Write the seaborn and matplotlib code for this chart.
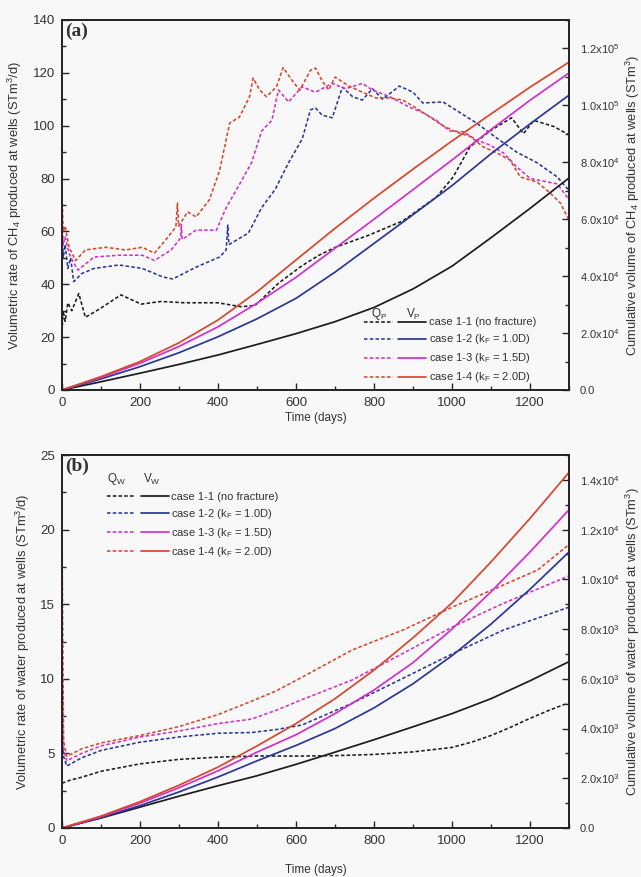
import numpy as np
import pandas as pd
import matplotlib
matplotlib.use("Agg")
import matplotlib.pyplot as plt
import seaborn as sns
from matplotlib.ticker import MultipleLocator, FuncFormatter
from matplotlib.legend_handler import HandlerTuple

# ---------------- data ----------------
case_labels = ["case 1-1 (no fracture)", "case 1-2 (k$_F$ = 1.0D)",
               "case 1-3 (k$_F$ = 1.5D)", "case 1-4 (k$_F$ = 2.0D)"]
case_colors = ["#1c1c1c", "#2b3795", "#d22fcb", "#d8462f"]

# panel (a) CH4 rate Qp (STm3/d)
qp_days_11 = [0, 3, 8, 15, 25, 43, 60, 100, 151, 203, 254, 315, 400, 460, 495, 556, 615, 659, 701, 787,
              874, 960, 1003, 1046, 1097, 1153, 1183, 1210, 1261, 1300]
qp_11 = [22, 30, 26, 33, 30, 36.5, 27.5, 31, 36, 32.5, 33.5, 33, 33, 31.5, 32, 40.5, 47, 51, 54, 58.6,
         64, 73, 80.6, 92, 98, 103, 97, 102, 99.7, 96.5]
qp_days_12 = [0, 3, 8, 15, 22, 30, 50, 82, 146, 206, 258, 284, 344, 404, 421, 425, 428, 478, 512, 547,
              581, 616, 637, 650, 667, 693, 719, 745, 770, 796, 822, 865, 900, 925, 977, 1020, 1063,
              1115, 1166, 1218, 1270, 1300]
qp_12 = [60, 50, 55, 46, 50, 41, 44, 46, 47.3, 46, 42.8, 42, 46.5, 50.3, 53, 62.4, 55, 59.4, 69, 76,
         86, 95, 106, 106.7, 104, 103, 114.6, 111, 109.7, 114, 110, 115, 112.7, 108.6, 109, 105, 101,
         95.3, 90, 86, 80.6, 75.5]
qp_days_13 = [0, 3, 8, 18, 30, 41, 82, 146, 206, 237, 280, 304, 306, 308, 344, 396, 421, 452, 486, 512,
              538, 555, 581, 615, 650, 693, 727, 770, 796, 840, 891, 925, 960, 994, 1029, 1063, 1097,
              1132, 1166, 1201, 1235, 1270, 1300]
qp_13 = [65, 55, 58, 51.8, 48, 45.4, 50.3, 51, 51, 49, 53, 57.5, 62.7, 57, 60.5, 60.5, 69, 77, 86, 98,
         102, 113.5, 109, 114.7, 112.7, 116, 114, 116, 113.5, 111, 107, 105, 102, 98, 97.7, 94.6, 92.7,
         89.7, 84.4, 80, 79, 78, 72]
qp_days_14 = [0, 3, 8, 18, 35, 60, 112, 163, 206, 237, 266, 292, 296, 299, 322, 344, 378, 404, 430, 455,
              481, 490, 507, 524, 550, 567, 593, 610, 637, 650, 667, 684, 700, 736, 770, 805, 840, 874,
              908, 943, 977, 1011, 1046, 1080, 1115, 1149, 1175, 1218, 1252, 1278, 1300]
qp_14 = [75, 60, 62, 54, 49, 53, 54, 53, 54, 51.8, 56.8, 61.7, 70.7, 62, 67.4, 65.5, 72, 83, 101, 103.3,
         111, 118, 113.5, 111, 114.7, 122, 116.5, 113.5, 121, 121.8, 117, 113.5, 118.4, 115, 112.7,
         110.5, 110.5, 109.7, 106.7, 103.3, 100, 97.6, 96, 92, 89.7, 87, 80.6, 78.7, 74.5, 70.7, 64.3]

# panel (a) cumulative CH4 Vp (STm3)
vp_days = [0, 100, 200, 300, 400, 500, 600, 700, 800, 900, 1000, 1100, 1200, 1300]
vp_11 = [0, 2.9e3, 5.9e3, 9.0e3, 12.3e3, 16.0e3, 19.8e3, 24.0e3, 29.0e3, 35.5e3, 43.5e3, 53.5e3, 63.8e3, 74.5e3]
vp_12 = [0, 3.9e3, 8.2e3, 13.1e3, 18.7e3, 25.0e3, 32.2e3, 41.4e3, 51.5e3, 61.6e3, 71.8e3, 83.0e3, 93.5e3, 103.6e3]
vp_13 = [0, 4.4e3, 9.4e3, 15.3e3, 22.2e3, 30.5e3, 39.6e3, 49.8e3, 60.0e3, 70.4e3, 80.8e3, 91.5e3, 101.8e3, 111.4e3]
vp_14 = [0, 4.7e3, 10.0e3, 16.6e3, 24.6e3, 34.5e3, 45.7e3, 56.8e3, 67.4e3, 77.6e3, 87.5e3, 97.0e3, 106.4e3, 115.2e3]

# panel (b) water rate Qw (STm3/d)
qw_days_11 = [0, 20, 50, 100, 200, 300, 400, 500, 600, 700, 800, 900, 1000, 1050, 1100, 1150, 1200, 1250, 1300]
qw_11 = [3.0, 3.2, 3.4, 3.8, 4.3, 4.6, 4.75, 4.83, 4.82, 4.85, 4.93, 5.1, 5.4, 5.75, 6.2, 6.75, 7.35, 7.9, 8.4]
qw_days_12 = [0, 4, 12, 50, 100, 200, 300, 400, 486, 550, 615, 744, 874, 1003, 1132, 1300]
qw_12 = [6.0, 4.8, 4.15, 4.7, 5.2, 5.75, 6.1, 6.35, 6.4, 6.6, 6.9, 8.36, 10.03, 11.7, 13.27, 14.8]
qw_days_13 = [0, 4, 12, 50, 100, 200, 300, 400, 486, 550, 615, 744, 874, 1003, 1132, 1300]
qw_13 = [12.0, 5.3, 4.5, 5.0, 5.5, 6.1, 6.5, 7.0, 7.3, 7.9, 8.6, 9.92, 11.7, 13.5, 15.06, 16.9]
qw_days_14 = [0, 4, 12, 50, 100, 200, 300, 400, 486, 550, 615, 744, 874, 1003, 1132, 1220, 1300]
qw_14 = [20.0, 5.8, 4.8, 5.3, 5.7, 6.2, 6.8, 7.6, 8.5, 9.2, 10.1, 11.93, 13.27, 14.83, 16.29, 17.3, 19.0]

# panel (b) cumulative water Vw (STm3)
vw_days = [0, 100, 200, 300, 400, 500, 600, 700, 800, 900, 1000, 1100, 1200, 1300]
vw_11 = [0, 0.40e3, 0.84e3, 1.28e3, 1.70e3, 2.10e3, 2.56e3, 3.05e3, 3.55e3, 4.07e3, 4.60e3, 5.20e3, 5.92e3, 6.69e3]
vw_12 = [0, 0.42e3, 0.90e3, 1.45e3, 2.05e3, 2.70e3, 3.32e3, 4.00e3, 4.83e3, 5.80e3, 6.93e3, 8.20e3, 9.60e3, 11.1e3]
vw_13 = [0, 0.45e3, 1.00e3, 1.62e3, 2.30e3, 3.05e3, 3.75e3, 4.60e3, 5.55e3, 6.65e3, 8.00e3, 9.50e3, 11.1e3, 12.8e3]
vw_14 = [0, 0.48e3, 1.06e3, 1.72e3, 2.45e3, 3.30e3, 4.20e3, 5.20e3, 6.35e3, 7.65e3, 9.05e3, 10.7e3, 12.45e3, 14.3e3]

x_ticks = [0, 200, 400, 600, 800, 1000, 1200]

# ---------------- style ----------------
sns.set_style("ticks")
plt.rcParams["font.family"] = ["Liberation Sans", "DejaVu Sans"]
plt.rcParams["mathtext.fontset"] = "custom"
plt.rcParams["mathtext.rm"] = "Liberation Sans"
plt.rcParams["mathtext.it"] = "Liberation Sans"
plt.rcParams["mathtext.default"] = "regular"

BG = "#f8f8f8"
fig = plt.figure(figsize=(6.41, 8.77), dpi=100, facecolor=BG)
W, H = 641, 877

def add_axes(left, top, right, bottom):
    return fig.add_axes([left / W, 1 - bottom / H, (right - left) / W, (bottom - top) / H])

axA = add_axes(62, 20, 569, 390)
axB = add_axes(62, 455, 569, 828)

DASH = (0, (2.2, 1.4))
LW = 1.15

def sci_fmt(v, pos):
    if abs(v) < 1e-9:
        return "0.0"
    e = int(np.floor(np.log10(abs(v)) + 1e-9))
    m = v / 10 ** e
    return rf"{m:.1f}x10$^{{{e}}}$"

def draw_panel(ax, q_series, v_series, ylim_l, ylim_r, l_major, l_minor, r_major, r_minor,
               ylab_l, ylab_r, tag, xlabpad):
    ax.set_facecolor(BG)
    ax2 = ax.twinx()
    for (d, q), c in zip(q_series, case_colors):
        df = pd.DataFrame({"day": d, "q": q})
        sns.lineplot(data=df, x="day", y="q", ax=ax, color=c, linestyle=DASH, lw=LW,
                     legend=False, sort=False, estimator=None)
    for (d, v), c in zip(v_series, case_colors):
        df = pd.DataFrame({"day": d, "v": v})
        sns.lineplot(data=df, x="day", y="v", ax=ax2, color=c, lw=LW + 0.1,
                     legend=False, sort=False, estimator=None)
    ax.set_xlim(0, 1300)
    ax.set_ylim(*ylim_l)
    ax2.set_ylim(*ylim_r)
    ax.set_xticks(x_ticks)
    ax.xaxis.set_minor_locator(MultipleLocator(100))
    ax.yaxis.set_major_locator(MultipleLocator(l_major))
    ax.yaxis.set_minor_locator(MultipleLocator(l_minor))
    ax2.yaxis.set_major_locator(MultipleLocator(r_major))
    ax2.yaxis.set_minor_locator(MultipleLocator(r_minor))
    ax2.yaxis.set_major_formatter(FuncFormatter(sci_fmt))
    ax.tick_params(axis="both", which="major", direction="in", length=5, width=1, labelsize=9.5,
                   top=False, right=False, pad=5, labelcolor="#333333")
    ax.tick_params(axis="both", which="minor", direction="in", length=3, width=1, top=False, right=False)
    ax2.tick_params(axis="y", which="major", direction="in", length=5, width=1, labelsize=8,
                    pad=8, labelcolor="#333333")
    ax2.tick_params(axis="y", which="minor", direction="in", length=3, width=1)
    for a in (ax, ax2):
        for s in a.spines.values():
            s.set_linewidth(1.2)
            s.set_color("#222222")
    ax.set_xlabel("Time (days)", fontsize=8.5, labelpad=xlabpad, color="#333333")
    ax.set_ylabel(ylab_l, fontsize=9.3, labelpad=6, color="#333333")
    ax2.set_ylabel(ylab_r, fontsize=9.3, color="#333333")
    ax2.yaxis.set_label_coords(1.108, 0.5)
    ax.text(0.006, 0.992, tag, transform=ax.transAxes, ha="left", va="top",
            fontsize=14, fontweight="bold", family=["Liberation Serif", "DejaVu Serif"], color="#333333")
    return ax2

ax2A = draw_panel(axA,
                  [(qp_days_11, qp_11), (qp_days_12, qp_12), (qp_days_13, qp_13), (qp_days_14, qp_14)],
                  [(vp_days, vp_11), (vp_days, vp_12), (vp_days, vp_13), (vp_days, vp_14)],
                  (0, 140), (0, 1.3e5), 20, 10, 2e4, 1e4,
                  "Volumetric rate of CH$_4$ produced at wells (STm$^3$/d)",
                  "Cumulative volume of CH$_4$ produced at wells (STm$^3$)", "(a)", 2)
ax2B = draw_panel(axB,
                  [(qw_days_11, qw_11), (qw_days_12, qw_12), (qw_days_13, qw_13), (qw_days_14, qw_14)],
                  [(vw_days, vw_11), (vw_days, vw_12), (vw_days, vw_13), (vw_days, vw_14)],
                  (0, 25), (0, 1.5e4), 5, 2.5, 2e3, 1e3,
                  "Volumetric rate of water produced at wells (STm$^3$/d)",
                  "Cumulative volume of water produced at wells (STm$^3$)", "(b)", 12)

def add_legend(ax, ax2, anchor, loc, hdr_q, hdr_v, hdr_pos):
    dashed = ax.get_lines()[:4]
    solid = ax2.get_lines()[:4]
    handles = [(d, s) for d, s in zip(dashed, solid)]
    leg = ax2.legend(handles, case_labels, handler_map={tuple: HandlerTuple(ndivide=None, pad=0.5)},
                     loc=loc, bbox_to_anchor=anchor, frameon=False, fontsize=8,
                     handlelength=5.6, handletextpad=0.2, labelspacing=0.45, borderpad=0,
                     borderaxespad=0)
    for t in leg.get_texts():
        t.set_color("#333333")
    (qx, vx, hy) = hdr_pos
    ax2.text(qx, hy, hdr_q, transform=ax2.transAxes, ha="center", va="center", fontsize=8.5, color="#333333")
    ax2.text(vx, hy, hdr_v, transform=ax2.transAxes, ha="center", va="center", fontsize=8.5, color="#333333")

add_legend(axA, ax2A, (0.596, 0.015), "lower left", "Q$_P$", "V$_P$", (0.626, 0.694, 0.205))
add_legend(axB, ax2B, (0.088, 0.9), "upper left", "Q$_W$", "V$_W$", (0.108, 0.177, 0.935))

fig.savefig("out.png", dpi=100, facecolor=BG)
